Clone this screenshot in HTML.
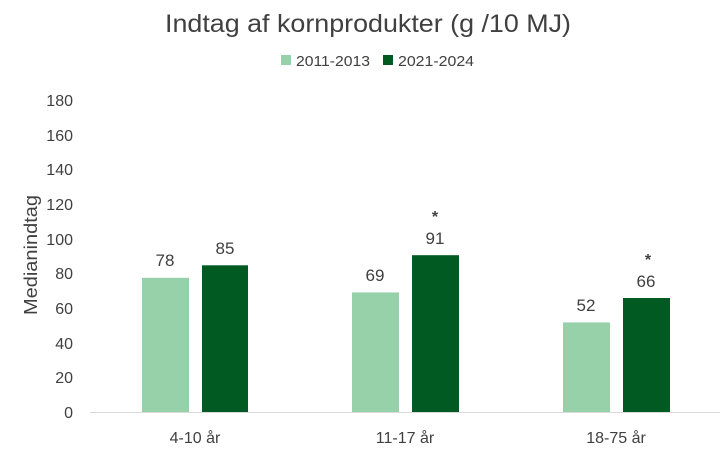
<!DOCTYPE html>
<html><head><meta charset="utf-8"><style>
html,body{margin:0;padding:0;background:#fff;}
svg{display:block;font-family:"Liberation Sans",sans-serif;}
</style></head><body>
<svg width="726" height="453" viewBox="0 0 726 453" xmlns="http://www.w3.org/2000/svg">
<rect width="726" height="453" fill="#fff"/>
<text x="368" y="32" font-size="25" fill="#404040" text-anchor="middle" textLength="406" lengthAdjust="spacingAndGlyphs">Indtag af kornprodukter (g /10 MJ)</text>
<rect x="281" y="55" width="10" height="10" fill="#96d1aa"/>
<text x="296" y="66" font-size="15" fill="#404040" textLength="74" lengthAdjust="spacingAndGlyphs">2011-2013</text>
<rect x="383" y="55" width="10" height="10" fill="#005a21"/>
<text x="398" y="66" font-size="15" fill="#404040" textLength="76" lengthAdjust="spacingAndGlyphs">2021-2024</text>
<g font-size="16" fill="#404040" text-anchor="end">
<text x="73" y="418">0</text>
<text x="73" y="383">20</text>
<text x="73" y="349">40</text>
<text x="73" y="314">60</text>
<text x="73" y="279">80</text>
<text x="73" y="245">100</text>
<text x="73" y="210">120</text>
<text x="73" y="175">140</text>
<text x="73" y="141">160</text>
<text x="73" y="106">180</text>
</g>
<text transform="translate(37,255) rotate(-90)" font-size="18" fill="#404040" text-anchor="middle" textLength="120" lengthAdjust="spacingAndGlyphs">Medianindtag</text>
<g>
<rect x="142" y="277.8" width="47" height="134.2" fill="#96d1aa"/>
<rect x="202" y="265.3" width="46" height="146.7" fill="#005a21"/>
<rect x="352" y="292.4" width="47" height="119.6" fill="#96d1aa"/>
<rect x="412" y="255.2" width="47" height="156.8" fill="#005a21"/>
<rect x="563" y="322.4" width="47" height="89.6" fill="#96d1aa"/>
<rect x="623" y="298" width="47" height="114" fill="#005a21"/>
</g>
<line x1="90" y1="412.5" x2="720" y2="412.5" stroke="#d9d9d9" stroke-width="1"/>
<g font-size="17" fill="#404040" text-anchor="middle">
<text x="165" y="266">78</text>
<text x="225" y="254">85</text>
<text x="375" y="281">69</text>
<text x="435" y="244">91</text>
<text x="586" y="311">52</text>
<text x="646" y="287">66</text>
<text x="435" y="222" font-size="16" font-weight="bold">*</text>
<text x="648" y="265" font-size="16" font-weight="bold">*</text>
</g>
<g font-size="16" fill="#404040" text-anchor="middle">
<text x="195" y="443">4-10 år</text>
<text x="405" y="443">11-17 år</text>
<text x="616" y="443">18-75 år</text>
</g>
</svg>
</body></html>
